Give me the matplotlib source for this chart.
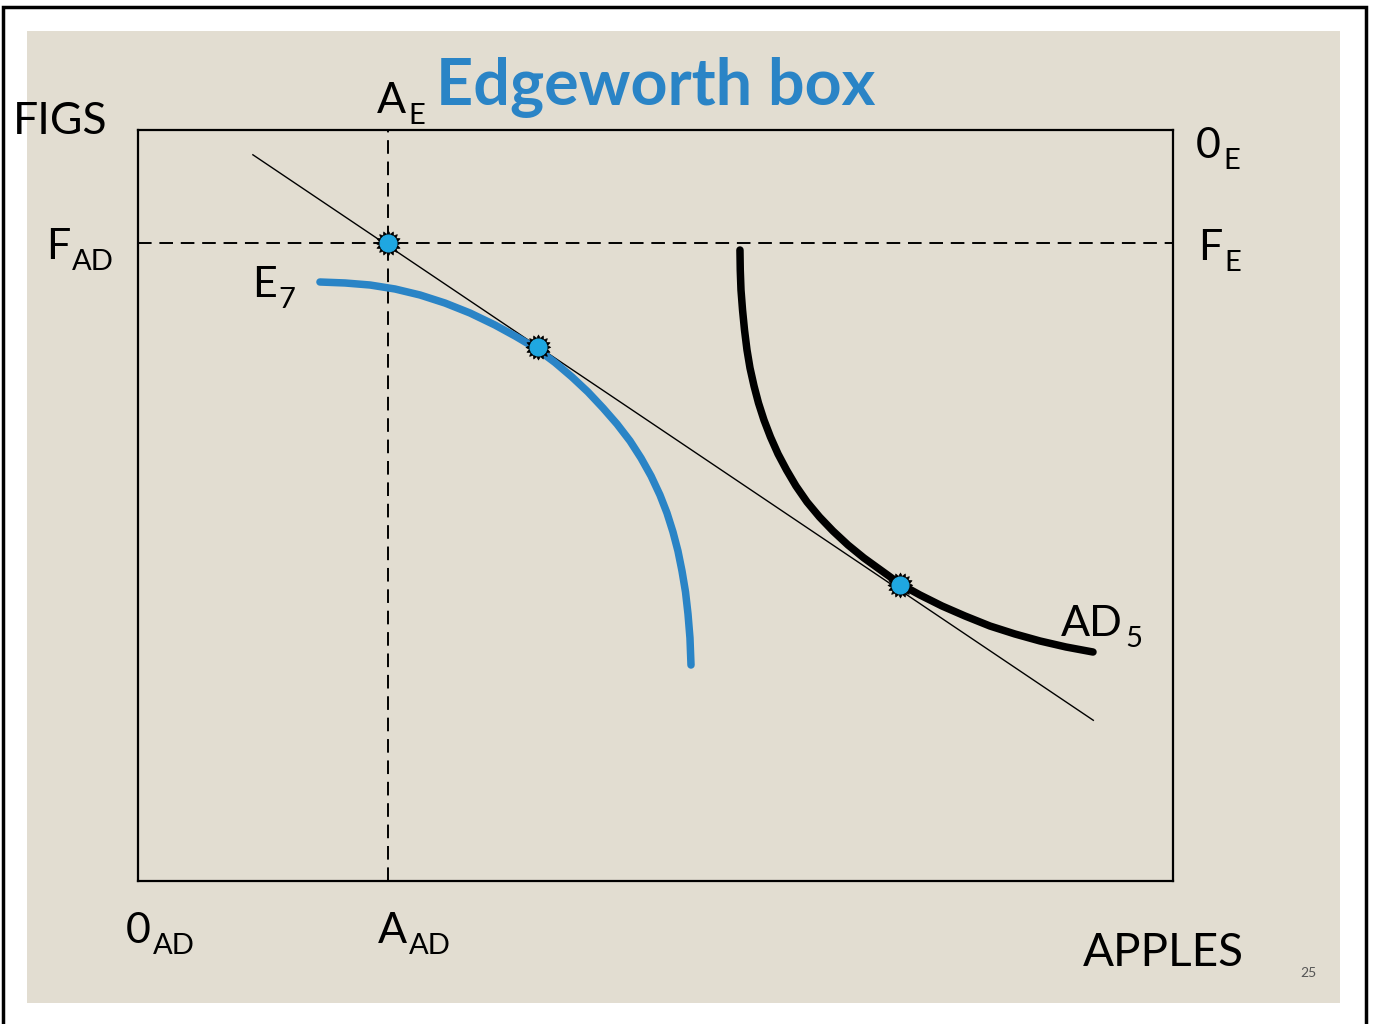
import numpy as np
import matplotlib
matplotlib.use("Agg")
import matplotlib.pyplot as plt
from matplotlib.patches import Rectangle

plt.rcParams['font.family'] = ['Lato', 'DejaVu Sans']

W, H = 1375, 1024

# box units: apples 0-100 across, figs 0-100 up
apples_e = 24.2      # A_AD / A_E split
figs_ad = 85.0       # F_AD / F_E split

# budget (price) line end points
line_x = [11.1, 92.3]
line_y = [96.7, 21.4]

# E7 indifference curve (blue)
e7_x = [17.58, 20.0, 22.42, 24.83, 27.25, 29.66, 32.08, 34.49, 36.52, 38.55, 40.29, 41.93,
        43.48, 44.93, 46.28, 47.54, 48.60, 49.57, 50.43, 51.11, 51.69, 52.17, 52.56, 52.90,
        53.14, 53.33, 53.43]
e7_y = [79.76, 79.63, 79.36, 78.83, 78.03, 76.96, 75.63, 74.03, 72.50, 70.84, 69.04, 67.11,
        65.11, 62.98, 60.85, 58.59, 56.32, 53.93, 51.40, 49.00, 46.47, 43.94, 41.28, 38.48,
        35.55, 32.36, 28.76]

# AD5 indifference curve (black)
ad5_x = [58.16, 58.19, 58.26, 58.41, 58.60, 58.84, 59.13, 59.52, 59.95, 60.48, 61.11, 61.84,
         62.66, 63.57, 64.64, 65.85, 67.15, 68.60, 70.14, 71.88, 73.62, 75.56, 77.68, 79.90,
         82.32, 84.73, 87.15, 89.66, 92.27]
ad5_y = [84.02, 81.36, 78.70, 76.03, 73.37, 70.71, 68.31, 65.91, 63.65, 61.38, 59.12, 56.86,
         54.73, 52.60, 50.47, 48.47, 46.60, 44.74, 43.01, 41.28, 39.55, 38.08, 36.62, 35.29,
         33.95, 32.89, 31.96, 31.16, 30.49]

# marked points
pts_x = [24.2, 38.6, 73.6]
pts_y = [85.0, 71.1, 39.4]

fig = plt.figure(figsize=(W / 100, H / 100), dpi=100)
fig.patch.set_facecolor('white')

def fx(px):
    return px / W

def fy(py):
    return 1 - py / H

# slide frame and beige panel
fig.patches.append(Rectangle((fx(3), fy(1030)), fx(1366) - fx(3), fy(7) - fy(1030),
                             transform=fig.transFigure, fill=False, ec='black', lw=2.5, zorder=-2))
fig.patches.append(Rectangle((fx(27), fy(1003)), fx(1340) - fx(27), fy(31) - fy(1003),
                             transform=fig.transFigure, fc='#E2DDD1', ec='none', zorder=-1))

ax = fig.add_axes([fx(138), fy(881), fx(1173) - fx(138), fy(130) - fy(881)])
ax.set_zorder(2)
ax.set_facecolor('none')
ax.set_xlim(0, 100)
ax.set_ylim(0, 100)
ax.set_xticks([])
ax.set_yticks([])
for s in ax.spines.values():
    s.set_linewidth(1.6)
    s.set_color('black')

ax.axvline(apples_e, color='black', lw=1.4, ls=(0, (7, 4)))
ax.axhline(figs_ad, color='black', lw=1.4, ls=(0, (7, 4)))

ax.plot(line_x, line_y, color='black', lw=1.0)
ax.plot(e7_x, e7_y, color='#2A84C6', lw=5.4, solid_capstyle='round', solid_joinstyle='round')
ax.plot(ad5_x, ad5_y, color='black', lw=5.4, solid_capstyle='round', solid_joinstyle='round')

# spiky marker
n = 16
ang = np.linspace(0, 2 * np.pi, 2 * n, endpoint=False)
rad = np.where(np.arange(2 * n) % 2 == 0, 1.0, 0.74)
star = list(zip(rad * np.cos(ang), rad * np.sin(ang)))
ax.plot(pts_x, pts_y, ls='none', marker=star, ms=18, mfc='black', mec='black', mew=0.5, zorder=5)
ax.plot(pts_x, pts_y, ls='none', marker='o', ms=12, mfc='#1FA7E1', mec='#1FA7E1', zorder=6)

def lbl(px, py, s, size=31, **kw):
    return fig.text(fx(px), fy(py), s, fontsize=size, ha='left', va='baseline', zorder=3, **kw)

def lbl_sub(px, py, s, sub):
    t = lbl(px, py, s)
    ax.annotate(sub, xy=(1, 0), xycoords=t, xytext=(2, -4), textcoords='offset pixels',
                fontsize=21, ha='left', va='baseline', annotation_clip=False)

lbl(13, 134, 'FIGS', size=32)
lbl_sub(46, 259, 'F', 'AD')
lbl_sub(377, 113, 'A', 'E')
lbl_sub(1196, 158, '0', 'E')
lbl_sub(1198, 260, 'F', 'E')
lbl_sub(252, 297, 'E', '7')
lbl_sub(1061, 636, 'AD', '5')
lbl_sub(126, 943, '0', 'AD')
lbl_sub(378, 943, 'A', 'AD')
lbl(1083, 966, 'APPLES', size=33)
lbl(1300, 977, '25', size=10, color='#555555')
fig.text(fx(436), fy(105), 'Edgeworth box', fontsize=46.5, fontweight='bold',
         color='#2A84C6', ha='left', va='baseline')

fig.savefig('out.png', dpi=100)
